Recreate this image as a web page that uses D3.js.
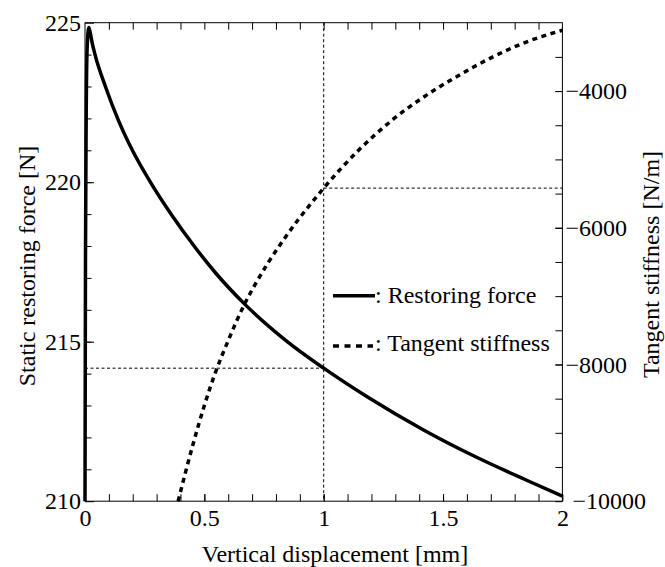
<!DOCTYPE html>
<html><head><meta charset="utf-8">
<script src="https://cdn.jsdelivr.net/npm/d3@7"></script>
<style>
body{margin:0;background:#fff}
svg{display:block}
</style></head><body>
<svg id="c" width="665" height="567"></svg>
<script>
// ---- data ----
const forceX = [0, 0.002, 0.005, 0.009, 0.016, 0.022, 0.03, 0.042, 0.087, 0.14, 0.198, 0.279, 0.366, 0.461, 0.55, 0.67, 0.838, 1.0, 1.187, 1.424, 1.634, 1.843, 2.0];
const forceY = [210, 217.5, 222.0, 224.2, 224.85, 224.68, 224.37, 224.0, 222.97, 221.94, 221.01, 219.94, 218.94, 217.96, 217.13, 216.17, 215.06, 214.17, 213.25, 212.21, 211.40, 210.68, 210.16];
const stiffX = [0.39, 0.45, 0.50, 0.545, 0.60, 0.67, 0.72, 0.768, 0.83, 0.894, 0.95, 1.0, 1.145, 1.285, 1.424, 1.564, 1.703, 1.843, 2.0];
const stiffY = [-10000, -9200, -8600, -8130, -7650, -7105, -6785, -6507, -6185, -5878, -5632, -5420, -4870, -4430, -4075, -3775, -3510, -3290, -3110];
const refX = 1.0, refForce = 214.17, refStiff = -5420;
const xMajor = [0, 0.5, 1, 1.5, 2];
const xTickLabels = ["0", "0.5", "1", "1.5", "2"];
const leftMajor = [210, 215, 220, 225];
const leftTickLabels = ["210", "215", "220", "225"];
const rightMajor = [-10000, -8000, -6000, -4000];
const rightTickLabels = ["\u221210000", "\u22128000", "\u22126000", "\u22124000"];
const legendLabels = [": Restoring force", ": Tangent stiffness"];
const xTitle = "Vertical displacement [mm]";
const leftTitle = "Static restoring force [N]";
const rightTitle = "Tangent stiffness [N/m]";

// ---- layout ----
const L = 85, R = 562.4, T = 22.7, B = 501.2;
const FS = 24;
const FF = "'Liberation Serif', 'Times New Roman', Tinos, 'DejaVu Serif', 'Noto Serif', 'Noto Serif CJK SC', 'Noto Serif CJK JP', FreeSerif, Times, serif";
const svg = d3.select('#c').attr('font-family', FF);
const x = d3.scaleLinear([0, 2], [L, R]);
const yL = d3.scaleLinear([210, 225], [B, T]);
const yR = d3.scaleLinear([-10000, -3000], [B, T]);

function style(g) {
  g.select('.domain').remove();
  g.attr('font-family', FF).attr('font-size', FS);
  g.selectAll('line').attr('stroke', '#000').attr('stroke-width', 1);
  g.selectAll('text').attr('fill', '#000').style('font-family', FF).style('font-size', FS + 'px');
}
function txt(sel) {
  return sel.attr('fill', '#000').style('font-family', FF).style('font-size', FS + 'px');
}

// crosshair dashed lines
const cross = svg.append('g').attr('stroke', '#000').attr('stroke-width', 1).attr('stroke-dasharray', '3,2.5').attr('fill', 'none');
cross.append('line').attr('x1', x(refX)).attr('x2', x(refX)).attr('y1', T).attr('y2', B);
cross.append('line').attr('x1', x(0)).attr('x2', x(refX)).attr('y1', yL(refForce)).attr('y2', yL(refForce));
cross.append('line').attr('x1', x(refX)).attr('x2', x(2)).attr('y1', yR(refStiff)).attr('y2', yR(refStiff));

// curves
const forceData = forceX.map((v, i) => [v, forceY[i]]);
const stiffData = stiffX.map((v, i) => [v, stiffY[i]]);
svg.append('path').datum(forceData)
  .attr('d', d3.line().x(d => x(d[0])).y(d => yL(d[1])).curve(d3.curveMonotoneX))
  .attr('fill', 'none').attr('stroke', '#000').attr('stroke-width', 3.5).attr('stroke-linejoin', 'round');
svg.append('path').datum(stiffData)
  .attr('d', d3.line().x(d => x(d[0])).y(d => yR(d[1])).curve(d3.curveMonotoneX))
  .attr('fill', 'none').attr('stroke', '#000').attr('stroke-width', 3.5).attr('stroke-dasharray', '5,4.5');

// axes
svg.append('g').attr('transform', `translate(0,${B})`)
  .call(d3.axisBottom(x).tickValues(d3.range(1, 20).map(i => i / 10)).tickSize(-7).tickFormat(''))
  .call(style);
svg.append('g').attr('transform', `translate(0,${B})`)
  .call(d3.axisBottom(x).tickValues(xMajor).tickSize(-7).tickPadding(8).tickFormat((d, i) => xTickLabels[i]))
  .call(style);
svg.append('g').attr('transform', `translate(0,${T})`)
  .call(d3.axisTop(x).tickValues(d3.range(1, 20).map(i => i / 10)).tickSize(-7).tickFormat(''))
  .call(style);
svg.append('g').attr('transform', `translate(${L},0)`)
  .call(d3.axisLeft(yL).tickValues(d3.range(211, 225)).tickSize(-6.5).tickFormat(''))
  .call(style);
svg.append('g').attr('transform', `translate(${L},0)`)
  .call(d3.axisLeft(yL).tickValues(leftMajor).tickSize(-9).tickPadding(4).tickFormat((d, i) => leftTickLabels[i]))
  .call(style);
svg.append('g').attr('transform', `translate(${R},0)`)
  .call(d3.axisRight(yR).tickValues(d3.range(-9500, -3000, 500)).tickSize(-7).tickFormat(''))
  .call(style);
const rAx = svg.append('g').attr('transform', `translate(${R},0)`)
  .call(d3.axisRight(yR).tickValues(rightMajor).tickSize(-7).tickPadding(3).tickFormat((d, i) => rightTickLabels[i]))
  .call(style);
rAx.selectAll('.tick text').filter(d => d === -10000).attr('x', 10);

// frame
svg.append('rect').attr('x', L).attr('y', T).attr('width', R - L).attr('height', B - T)
  .attr('fill', 'none').attr('stroke', '#000').attr('stroke-width', 1);

// titles
txt(svg.append('text').attr('x', 335).attr('y', 561.5).attr('text-anchor', 'middle')).text(xTitle);
txt(svg.append('text').attr('transform', 'translate(35,266) rotate(-90)').attr('text-anchor', 'middle')).text(leftTitle);
txt(svg.append('text').attr('transform', 'translate(659,264.5) rotate(-90)').attr('text-anchor', 'middle')).text(rightTitle);

// legend
const lg = svg.append('g');
lg.append('line').attr('x1', 333).attr('x2', 375).attr('y1', 295.7).attr('y2', 295.7).attr('stroke', '#000').attr('stroke-width', 3.5);
txt(lg.append('text').attr('x', 375).attr('y', 303)).text(legendLabels[0]);
lg.append('line').attr('x1', 333).attr('x2', 373).attr('y1', 346).attr('y2', 346).attr('stroke', '#000').attr('stroke-width', 3.5).attr('stroke-dasharray', '6,5.5');
txt(lg.append('text').attr('x', 375).attr('y', 351)).text(legendLabels[1]);
</script></body></html>
